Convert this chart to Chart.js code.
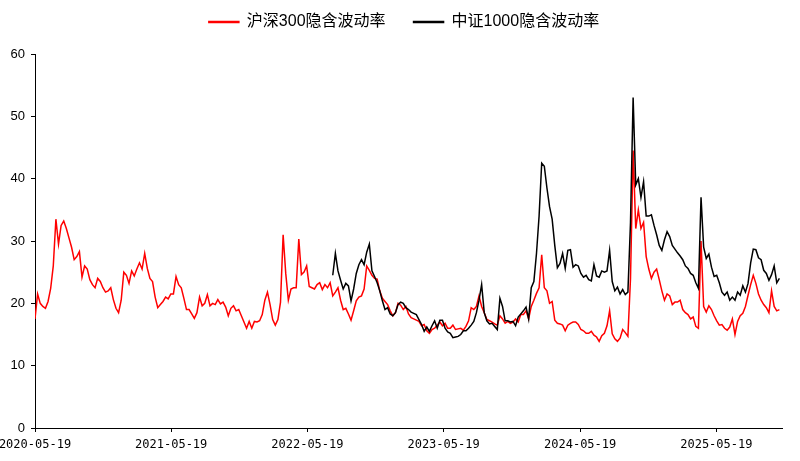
<!DOCTYPE html>
<html>
<head>
<meta charset="utf-8">
<script src="https://cdn.jsdelivr.net/npm/chart.js@4"></script>
<style>
  html, body { margin: 0; padding: 0; background: #fff; }
  #wrap { width: 800px; height: 461px; }
</style>
</head>
<body>
<div id="wrap"><canvas id="myChart"></canvas></div>
<script>
// weekly samples (Tuesdays)
const dates = [
  '2020-05-19','2020-05-26','2020-06-02','2020-06-09','2020-06-16','2020-06-23','2020-06-30','2020-07-07','2020-07-14','2020-07-21',
  '2020-07-28','2020-08-04','2020-08-11','2020-08-18','2020-08-25','2020-09-01','2020-09-08','2020-09-15','2020-09-22','2020-09-29',
  '2020-10-06','2020-10-13','2020-10-20','2020-10-27','2020-11-03','2020-11-10','2020-11-17','2020-11-24','2020-12-01','2020-12-08',
  '2020-12-15','2020-12-22','2020-12-29',
  '2021-01-05','2021-01-12','2021-01-19','2021-01-26','2021-02-02','2021-02-09','2021-02-16','2021-02-23','2021-03-02','2021-03-09',
  '2021-03-16','2021-03-23','2021-03-30','2021-04-06','2021-04-13','2021-04-20','2021-04-27','2021-05-04','2021-05-11','2021-05-18',
  '2021-05-25','2021-06-01','2021-06-08','2021-06-15','2021-06-22','2021-06-29','2021-07-06','2021-07-13','2021-07-20','2021-07-27',
  '2021-08-03','2021-08-10','2021-08-17','2021-08-24','2021-08-31','2021-09-07','2021-09-14','2021-09-21','2021-09-28','2021-10-05',
  '2021-10-12','2021-10-19','2021-10-26','2021-11-02','2021-11-09','2021-11-16','2021-11-23','2021-11-30','2021-12-07','2021-12-14',
  '2021-12-21','2021-12-28',
  '2022-01-04','2022-01-11','2022-01-18','2022-01-25','2022-02-01','2022-02-08','2022-02-15','2022-02-22','2022-03-01','2022-03-08',
  '2022-03-15','2022-03-22','2022-03-29','2022-04-05','2022-04-12','2022-04-19','2022-04-26','2022-05-03','2022-05-10','2022-05-17',
  '2022-05-24','2022-05-31','2022-06-07','2022-06-14','2022-06-21','2022-06-28','2022-07-05','2022-07-12','2022-07-19','2022-07-26',
  '2022-08-02','2022-08-09','2022-08-16','2022-08-23','2022-08-30','2022-09-06','2022-09-13','2022-09-20','2022-09-27','2022-10-04',
  '2022-10-11','2022-10-18','2022-10-25','2022-11-01','2022-11-08','2022-11-15','2022-11-22','2022-11-29','2022-12-06','2022-12-13',
  '2022-12-20','2022-12-27',
  '2023-01-03','2023-01-10','2023-01-17','2023-01-24','2023-01-31','2023-02-07','2023-02-14','2023-02-21','2023-02-28','2023-03-07',
  '2023-03-14','2023-03-21','2023-03-28','2023-04-04','2023-04-11','2023-04-18','2023-04-25','2023-05-02','2023-05-09','2023-05-16',
  '2023-05-23','2023-05-30','2023-06-06','2023-06-13','2023-06-20','2023-06-27','2023-07-04','2023-07-11','2023-07-18','2023-07-25',
  '2023-08-01','2023-08-08','2023-08-15','2023-08-22','2023-08-29','2023-09-05','2023-09-12','2023-09-19','2023-09-26','2023-10-03',
  '2023-10-10','2023-10-17','2023-10-24','2023-10-31','2023-11-07','2023-11-14','2023-11-21','2023-11-28','2023-12-05','2023-12-12',
  '2023-12-19','2023-12-26',
  '2024-01-02','2024-01-09','2024-01-16','2024-01-23','2024-01-30','2024-02-06','2024-02-13','2024-02-20','2024-02-27','2024-03-05',
  '2024-03-12','2024-03-19','2024-03-26','2024-04-02','2024-04-09','2024-04-16','2024-04-23','2024-04-30','2024-05-07','2024-05-14',
  '2024-05-21','2024-05-28','2024-06-04','2024-06-11','2024-06-18','2024-06-25','2024-07-02','2024-07-09','2024-07-16','2024-07-23',
  '2024-07-30','2024-08-06','2024-08-13','2024-08-20','2024-08-27','2024-09-03','2024-09-10','2024-09-17','2024-09-24','2024-10-01',
  '2024-10-08','2024-10-15','2024-10-22','2024-10-29','2024-11-05','2024-11-12','2024-11-19','2024-11-26','2024-12-03','2024-12-10',
  '2024-12-17','2024-12-24','2024-12-31',
  '2025-01-07','2025-01-14','2025-01-21','2025-01-28','2025-02-04','2025-02-11','2025-02-18','2025-02-25','2025-03-04','2025-03-11',
  '2025-03-18','2025-03-25','2025-04-01','2025-04-08','2025-04-15','2025-04-22','2025-04-29','2025-05-06','2025-05-13','2025-05-20',
  '2025-05-27','2025-06-03','2025-06-10','2025-06-17','2025-06-24','2025-07-01','2025-07-08','2025-07-15','2025-07-22','2025-07-29',
  '2025-08-05','2025-08-12','2025-08-19','2025-08-26','2025-09-02','2025-09-09','2025-09-16','2025-09-23','2025-09-30','2025-10-07',
  '2025-10-14','2025-10-21','2025-10-28','2025-11-04','2025-11-11'
];

// 沪深300隐含波动率
const hs300 = [
  17.5, 21.5, 20, 19.5, 19.2, 20.3, 22.4, 26, 33.5, 29.5,
  32.5, 33.2, 32, 30.5, 29, 27, 27.5, 28.3, 24.2, 26,
  25.5, 23.8, 23, 22.5, 24, 23.5, 22.5, 21.8, 22, 22.5,
  20.6, 19.2, 18.5, 20.5, 25, 24.5, 23.2, 25.2, 24.4, 25.5,
  26.5, 25.5, 28, 25.6, 24, 23.5, 21, 19.3, 19.8, 20.3,
  21, 20.7, 21.5, 21.5, 24.3, 23, 22.5, 20.8, 19, 19,
  18.3, 17.6, 18.5, 21, 19.6, 20, 21.4, 19.6, 20, 19.8,
  20.6, 19.9, 20.2, 19.4, 18, 19.2, 19.6, 18.8, 19, 18,
  17, 16, 17.1, 16, 17.1, 17, 17.2, 18.2, 20.5, 21.8,
  19.8, 17.4, 16.5, 17.4, 20.2, 31, 24.8, 20.5, 22.3, 22.5,
  22.5, 30.3, 24.6, 25, 26, 22.7, 22.5, 22.3, 23, 23.3,
  22.2, 23, 22.5, 23.3, 21.2, 21.8, 22.5, 20.5, 19, 19.2,
  18.3, 17.3, 18.8, 20.4, 21, 21.2, 22.3, 26, 25.3, 24.5,
  24, 23.9, 22, 20.8, 20.3, 19.8, 18.8, 18, 18.5, 20,
  19.7, 19, 19.5, 18.3, 17.7, 17.5, 17.3, 17.1, 16.4, 16.6,
  15.6, 15.2, 15.8, 16, 16.5, 17, 16.4, 16.8, 16, 16,
  16.5, 15.8, 15.9, 16, 15.7, 16.3, 17.2, 19.3, 19, 19.5,
  21.2, 19.5, 18.5, 17.4, 17.2, 17, 16.7, 16.5, 18, 17.5,
  16.8, 17.1, 16.8, 17, 17.5, 17, 18.2, 18.2, 18.8, 17.5,
  19.5, 20.5, 21.6, 22.5, 27.8, 22.5, 22, 20, 20.3, 17.3,
  16.8, 16.7, 16.5, 15.6, 16.5, 16.8, 17, 17, 16.6, 15.8,
  15.6, 15.2, 15.2, 15.5, 14.9, 14.6, 13.9, 14.8, 15.2, 16.4,
  18.8, 15.1, 14.3, 13.9, 14.4, 15.8, 15.3, 14.7, 24, 44.5,
  32, 35, 32, 33, 27.5, 25.5, 24, 25, 25.5, 23.8,
  22, 20.5, 21.5, 21.2, 19.8, 20.2, 20.2, 20.5, 19, 18.5,
  18.2, 17.5, 17.8, 16.3, 16, 30, 19.5, 18.6, 19.6, 19,
  18, 17.2, 16.5, 16.6, 16, 15.7, 16.2, 17.5, 15, 17.1,
  18, 18.4, 19.5, 21.3, 23, 24.5, 23.2, 21.5, 20.5, 19.8,
  19.3, 18.5, 22, 19.5, 18.8, 19
];

// 中证1000隐含波动率, starts later
const csi1000Start = '2022-07-26';
const csi1000 = [
  24.5, 28, 25.2, 23.7, 22.3, 23.2,
  22.8, 20.4, 22.3, 24.8, 26.2, 27, 26.2, 28.2, 29.5, 25.2,
  24.3, 23.3, 22, 20.4, 19, 19.3, 18.3, 18, 18.5, 19.8,
  20.2, 20, 19.3, 19, 18.6, 18.4, 18.2, 17.4, 16.6, 15.5,
  16.2, 15.5, 16.4, 17.2, 16, 17.3, 17.3, 16, 15.4, 15.2,
  14.5, 14.6, 14.7, 15, 15.6, 15.6, 16, 16.5, 17.1, 18.5,
  20.5, 23, 18.5, 17.2, 16.7, 16.8, 16.3, 15.8, 20.8, 19.5,
  17.2, 17.2, 17, 17.1, 16.4, 17.8, 18.3, 18.8, 19.4, 17.5,
  22.5, 23.5, 28, 34, 42.5, 42, 38.5, 35.5, 33.5, 29.3,
  25.7, 26.4, 28, 25.6, 28.5, 28.6, 25.8, 26.2, 26, 24.8,
  24.2, 24.5, 23.8, 23.6, 26.2, 24.4, 24.2, 25.2, 25, 25.2,
  28.5, 23.5, 22, 22.6, 21.5, 22.2, 21.4, 21.8, 33, 53,
  39, 40, 37, 39.5, 34, 34, 34.2, 32.5, 31, 29.3,
  28.5, 30.2, 31.5, 30.7, 29.3, 28.7, 28.1, 27.6, 27, 26,
  25.6, 24.8, 24.5, 23.3, 22.4, 37, 29, 27.2, 27.9, 25.8,
  24.3, 24.5, 23.3, 21.8, 21.3, 21.8, 20.5, 21, 20.5, 21.8,
  21.3, 22.8, 21.8, 23.2, 26.5, 28.7, 28.6, 27.3, 27, 25.3,
  24.8, 23.7, 24.6, 26, 23.3, 24
];

const tickDates = ['2020-05-19', '2021-05-19', '2022-05-19', '2023-05-19', '2024-05-19', '2025-05-19'];

const dayOf = d => (Date.parse(d) - Date.parse(dates[0])) / 86400000;
const csiDates = dates.slice(dates.indexOf(csi1000Start));

// legend: leave a gap above the plot, nudge it a bit to the right
const legendPlace = {
  id: 'legendPlace',
  beforeInit(chart) {
    const fit = chart.legend.fit;
    chart.legend.fit = function () {
      fit.call(this);
      this.height += 14;
    };
  },
  afterLayout(chart) {
    chart.legend.left += 26;
  }
};

const ctx = document.getElementById('myChart').getContext('2d');
new Chart(ctx, {
  type: 'line',
  data: {
    datasets: [
      {
        label: '沪深300隐含波动率',
        data: dates.map((d, i) => ({ x: dayOf(d), y: hs300[i] })),
        borderColor: '#ff0000',
        backgroundColor: '#ff0000',
        borderWidth: 1.5,
        pointRadius: 0,
        order: 1
      },
      {
        label: '中证1000隐含波动率',
        data: csiDates.map((d, i) => ({ x: dayOf(d), y: csi1000[i] })),
        borderColor: '#000000',
        backgroundColor: '#000000',
        borderWidth: 1.5,
        pointRadius: 0,
        order: 0
      }
    ]
  },
  options: {
    animation: false,
    responsive: true,
    maintainAspectRatio: false,
    layout: { padding: { top: -14, right: 18, left: 0, bottom: 0 } },
    plugins: {
      legend: {
        position: 'top',
        labels: {
          boxWidth: 30,
          boxHeight: 1,
          padding: 28,
          color: '#000',
          font: { family: '"Liberation Sans", "Noto Sans CJK SC", sans-serif', size: 16 },
          sort: (a, b) => a.datasetIndex - b.datasetIndex
        }
      },
      tooltip: { enabled: false }
    },
    scales: {
      x: {
        type: 'linear',
        min: 0,
        max: dayOf(dates[dates.length - 1]),
        afterBuildTicks: s => { s.ticks = tickDates.map(d => ({ value: dayOf(d) })); },
        afterFit: s => { s.height = 33; s.paddingLeft = 0; s.paddingRight = 0; },
        ticks: {
          autoSkip: false,
          maxRotation: 0,
          padding: 6,
          color: '#000',
          font: { family: '"DejaVu Sans Mono", monospace', size: 12 },
          callback: (v, i) => tickDates[i]
        },
        grid: { drawOnChartArea: false, tickLength: 4, color: '#000' },
        border: { color: '#000', width: 1 }
      },
      y: {
        min: 0,
        max: 60,
        afterFit: s => { s.width = 35; s.paddingTop = 0; s.paddingBottom = 0; },
        ticks: {
          stepSize: 10,
          padding: 6,
          color: '#000',
          font: { family: '"Liberation Sans", Arial, sans-serif', size: 13 }
        },
        grid: { drawOnChartArea: false, tickLength: 4, color: '#000' },
        border: { color: '#000', width: 1 }
      }
    }
  },
  plugins: [legendPlace]
});
</script>
</body>
</html>
